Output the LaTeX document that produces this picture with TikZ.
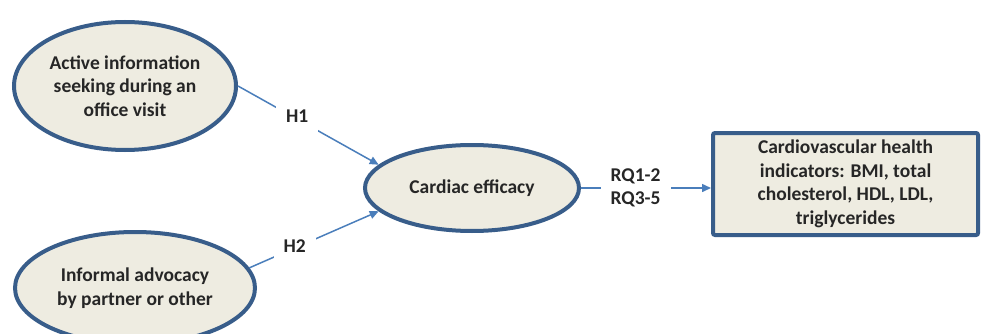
\documentclass[tikz,border=0pt]{standalone}
\usepackage{fontspec}
\setmainfont{Carlito}
\usetikzlibrary{shapes.geometric, arrows.meta}
\definecolor{oval edge}{HTML}{385D8A}
\definecolor{oval area}{HTML}{EEECE1}
\definecolor{link line}{HTML}{4A7EBB}
\definecolor{label ink}{HTML}{262626}
\tikzset{
  labelfont/.style={text=label ink, font=\bfseries\fontsize{19.5}{23.5}\selectfont},
  construct/.style={ellipse, draw=oval edge, fill=oval area, line width=4pt,
    inner sep=0pt, align=center, labelfont},
  outcome/.style={rectangle, rounded corners=2pt, draw=oval edge, fill=oval area,
    line width=4pt, inner sep=0pt, align=center, labelfont},
  link/.style={draw=link line, line width=1.5pt, -{Triangle[length=9pt,width=8pt]}},
  tag/.style={fill=white, inner sep=10pt, align=center, labelfont}
}

\begin{document}
\begin{tikzpicture}[x=1pt, y=-1pt]
  \fill[white] (0,0) rectangle (984,334);
  \useasboundingbox (0,0) rectangle (984,334);
  % predictors, mediator and outcome
  \node[construct, minimum width=222pt, minimum height=128pt] (seeking) at (125,86)
    {Active information\\seeking during an\\office visit};
  \node[construct, minimum width=240pt, minimum height=112pt] (advocacy) at (135,288)
    {Informal advocacy\\by partner or other};
  \node[construct, minimum width=214pt, minimum height=86pt] (efficacy) at (472,188)
    {Cardiac efficacy};
  \node[outcome, minimum width=265pt, minimum height=102pt] (health) at (845.5,184)
    {Cardiovascular health\\indicators: BMI, total\\cholesterol, HDL, LDL,\\triglycerides};
  % hypotheses and research questions
  \draw[link] (seeking.east) -- node[tag, pos=0.42, yshift=3pt] {H1} (efficacy.166);
  \draw[link] (advocacy.10) -- node[tag, pos=0.35, yshift=2pt] {H2} (efficacy.194);
  \draw[link] (efficacy.east) -- node[tag, pos=0.42] {RQ1-2\\RQ3-5} (efficacy.east -| health.west);
\end{tikzpicture}
\end{document}
